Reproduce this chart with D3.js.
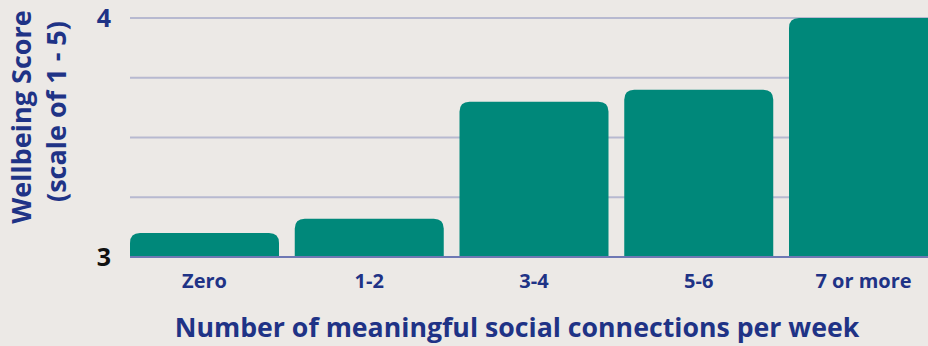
<!DOCTYPE html>
<html>
<head>
<meta charset="utf-8">
<script src="https://cdn.jsdelivr.net/npm/d3@7"></script>
<style>
  html, body { margin: 0; padding: 0; background: #ece9e6; }
  svg { display: block; font-family: "Open Sans", "Noto Sans", sans-serif; }
</style>
</head>
<body>
<svg id="chart" width="928" height="346"></svg>
<script>
// Average wellbeing score by number of meaningful social connections per week
const categories = ["Zero", "1-2", "3-4", "5-6", "7 or more"];
const scores = [3.10, 3.16, 3.65, 3.70, 4.00];
const gridValues = [3, 3.25, 3.5, 3.75, 4];
const tickLabels = [3, 4];

const W = 928, H = 346;
const navy = "#1f3386";
const teal = "#00887a";

const svg = d3.select("#chart");

const x = d3.scaleBand()
  .domain(categories)
  .range([130, 938])
  .paddingInner(0.0956)
  .paddingOuter(0);

const y = d3.scaleLinear()
  .domain([3, 4])
  .range([257, 18]);

// horizontal gridlines
svg.append("g")
  .selectAll("line")
  .data(gridValues.slice(1))
  .join("line")
  .attr("x1", 130).attr("x2", W)
  .attr("y1", d => y(d)).attr("y2", d => y(d))
  .attr("stroke", "#b7b9d0")
  .attr("stroke-width", 2);

// bars with rounded top corners
const r = 10;
function barPath(x0, w, yTop, yBase) {
  const rr = Math.min(r, (yBase - yTop), w / 2);
  return `M${x0},${yBase}V${yTop + rr}Q${x0},${yTop} ${x0 + rr},${yTop}` +
         `H${x0 + w - rr}Q${x0 + w},${yTop} ${x0 + w},${yTop + rr}V${yBase}Z`;
}
svg.append("g")
  .selectAll("path")
  .data(categories.map((c, i) => ({ c, v: scores[i] })))
  .join("path")
  .attr("d", d => barPath(x(d.c), x.bandwidth(), y(d.v), y(3)))
  .attr("fill", teal);

// baseline
svg.append("line")
  .attr("x1", 130).attr("x2", W)
  .attr("y1", y(3)).attr("y2", y(3))
  .attr("stroke", "#6e78b4")
  .attr("stroke-width", 2);

// y tick labels
svg.append("g")
  .selectAll("text")
  .data(tickLabels)
  .join("text")
  .attr("x", 104)
  .attr("y", d => y(d))
  .attr("dy", "0.36em")
  .attr("text-anchor", "middle")
  .attr("font-size", 25)
  .attr("font-weight", 700)
  .attr("fill", d => d === 4 ? navy : "#111")
  .text(d => d);

// category labels
const xAxis = d3.axisBottom(x).tickSize(0).tickPadding(0);
const gx = svg.append("g")
  .attr("transform", `translate(0,${y(3)})`)
  .call(xAxis);
gx.select(".domain").remove();
gx.selectAll("text")
  .attr("y", 31)
  .attr("dy", 0)
  .attr("font-family", "Open Sans, Noto Sans, sans-serif")
  .attr("font-size", 20)
  .attr("font-weight", 700)
  .attr("fill", navy);

// x-axis title
svg.append("text")
  .attr("x", 517)
  .attr("y", 337)
  .attr("text-anchor", "middle")
  .attr("font-size", 26.7)
  .attr("font-weight", 700)
  .attr("fill", navy)
  .text("Number of meaningful social connections per week");

// y-axis title (two lines)
const yTitle = svg.append("text")
  .attr("transform", "rotate(-90)")
  .attr("text-anchor", "middle")
  .attr("font-size", 27)
  .attr("font-weight", 700)
  .attr("fill", navy);
yTitle.append("tspan").attr("x", -117).attr("y", 31).text("Wellbeing Score");
yTitle.append("tspan").attr("x", -111.5).attr("y", 66).text("(scale of 1 - 5)");
</script>
</body>
</html>
